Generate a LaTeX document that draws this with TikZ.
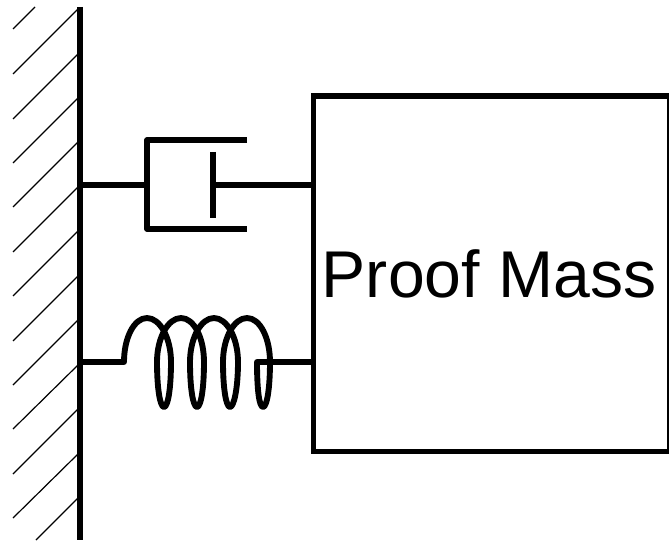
\documentclass[tikz,border=0pt]{standalone}
\usepackage{fontspec}
\setmainfont{Liberation Sans}
\tikzset{
  heavy/.style={line width=4pt,line cap=butt,line join=miter},
  springline/.style={line width=4.4pt,line cap=butt,line join=round},
  hatch/.style={line width=0.9pt},
  massbox/.style={draw,line width=4pt,outer sep=0pt,minimum width=267.4pt,minimum height=266.6pt,inner sep=0pt,font=\fontsize{49.6}{50}\selectfont}
}
\begin{document}
\begin{tikzpicture}[x=0.75pt,y=-0.75pt]
\useasboundingbox (0,0) rectangle (669,542);
\node[massbox,anchor=north west] (mass) at (313.5,96) {\hspace*{-4pt}\raisebox{0.8pt}{Proof Mass}};
\coordinate (wtop) at (80,7);
\coordinate (wbot) at (80,540);
\draw[heavy] (wtop) -- (wbot);
% hatching
\foreach \a/\b/\c/\d in {13/29/35/7,13/74/78/9,13/119/78/54,13/163/78/98,13/207/78/142,13/252/78/187,13/296/78/231,13/341/78/276,13/385/78/320,13/429/78/365,13/474/78/409,13/518/78/454,36/540/78/498}
  \draw[hatch] (\a,\b) -- (\c,\d);
% dashpot
\coordinate (dw) at (80,185);
\coordinate (dl) at (147,185);
\coordinate (dp) at (213,185);
\coordinate (dm) at (313.5,185);
\draw[heavy] (dw) -- (dl);
\draw[heavy,line join=round] (247,140) -- (147,140) -- (147,229) -- (247,229);
\draw[heavy] (213,152) -- (213,218);
\draw[heavy] (dp) -- (dm);
% spring
\coordinate (sw) at (80,362);
\coordinate (sm) at (313.5,362);
\draw[springline] (sw) -- (124,362)
  .. controls (124,338) and (134,318) .. (147,318)
  .. controls (160,318) and (171,338) .. (171,362)
  .. controls (171,388) and (168,407) .. (164,407)
  .. controls (160,407) and (157,388) .. (157,362)
  .. controls (157,338) and (168,318) .. (181,318)
  .. controls (194,318) and (204,338) .. (204,362)
  .. controls (204,388) and (201,407) .. (197,407)
  .. controls (193,407) and (190,388) .. (190,362)
  .. controls (190,338) and (201,318) .. (214,318)
  .. controls (227,318) and (238,338) .. (238,362)
  .. controls (238,388) and (234,407) .. (230,407)
  .. controls (226,407) and (223,388) .. (223,362)
  .. controls (223,338) and (234,318) .. (247,318)
  .. controls (260,318) and (270,338) .. (270,362)
  .. controls (270,388) and (267,407) .. (263,407)
  .. controls (259,407) and (257,388) .. (257,362)
  -- (sm);
\end{tikzpicture}
\end{document}
